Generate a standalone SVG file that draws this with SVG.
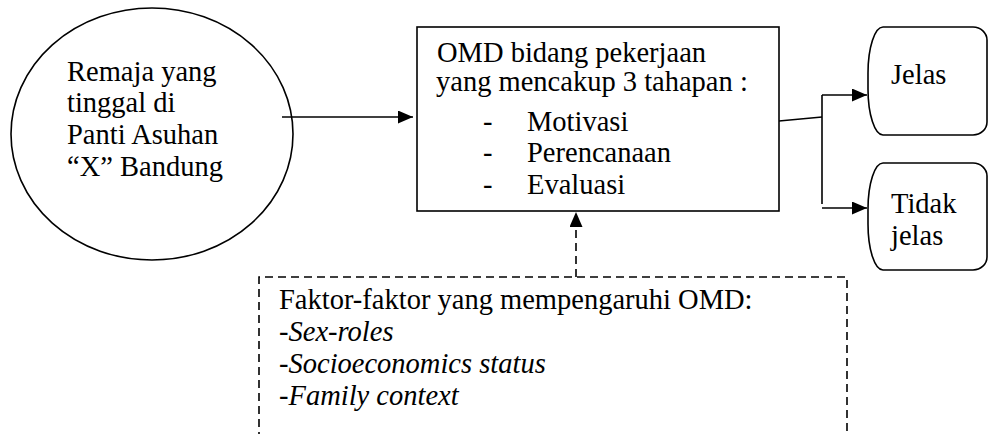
<svg xmlns="http://www.w3.org/2000/svg" width="988" height="434" viewBox="0 0 988 434">
<style>
.s{fill:none;stroke:#000;stroke-width:1.6}
.d{fill:none;stroke:#000;stroke-width:1.6;stroke-dasharray:8 5}
text{font-family:'Liberation Serif','Times New Roman','DejaVu Serif',serif;font-size:28.5px;fill:#000}
.i{font-style:italic}
</style>
<defs>
<marker id="ah" viewBox="0 0 15 13" refX="15" refY="6.5" markerWidth="15" markerHeight="13" markerUnits="userSpaceOnUse" orient="auto">
<path d="M0,0 L15,6.5 L0,13 Z" fill="#000"/>
</marker>
</defs>
<rect width="988" height="434" fill="#fff"/>
<g id="remaja">
<ellipse class="s" cx="152" cy="134" rx="141" ry="126"/>
<text x="67" y="81">Remaja yang</text>
<text x="67" y="112">tinggal di</text>
<text x="67" y="144">Panti Asuhan</text>
<text x="67" y="176">“X” Bandung</text>
</g>
<g id="omd">
<rect class="s" x="417" y="27" width="362" height="184"/>
<text x="437" y="62">OMD bidang pekerjaan</text>
<text x="436" y="91">yang mencakup 3 tahapan :</text>
<text x="483" y="131">-</text>
<text x="527" y="131">Motivasi</text>
<text x="483" y="162">-</text>
<text x="527" y="162">Perencanaan</text>
<text x="483" y="194">-</text>
<text x="527" y="194">Evaluasi</text>
</g>
<g id="jelas">
<path class="s" d="M883,27 H973 A14 13 0 0 1 987,40 V122 A14 13 0 0 1 973,135 H883 A15 46 0 0 1 868,89 V73 A15 46 0 0 1 883,27 Z"/>
<text x="891" y="84">Jelas</text>
</g>
<g id="tidak-jelas">
<path class="s" d="M883,163 H973 A14 13 0 0 1 987,176 V257 A14 13 0 0 1 973,270 H883 A15 46 0 0 1 868,224 V209 A15 46 0 0 1 883,163 Z"/>
<text x="891" y="213">Tidak</text>
<text x="891" y="245">jelas</text>
</g>
<g id="faktor">
<path class="d" d="M259,440 V277 H847 V440"/>
<text x="279" y="309">Faktor-faktor yang mempengaruhi OMD:</text>
<text class="i" x="279" y="341">-Sex-roles</text>
<text class="i" x="279" y="373">-Socioeconomics status</text>
<text class="i" x="279" y="405">-Family context</text>
</g>
<g id="connectors">
<line class="s" x1="282" y1="117" x2="413" y2="117" marker-end="url(#ah)"/>
<line class="d" x1="576" y1="277" x2="576" y2="212" marker-end="url(#ah)"/>
<line class="s" x1="779" y1="121" x2="822" y2="117"/>
<line class="s" x1="822" y1="95" x2="822" y2="204"/>
<line class="s" x1="822" y1="95" x2="867" y2="95" marker-end="url(#ah)"/>
<line class="s" x1="822" y1="208" x2="867" y2="208" marker-end="url(#ah)"/>
</g>
</svg>
